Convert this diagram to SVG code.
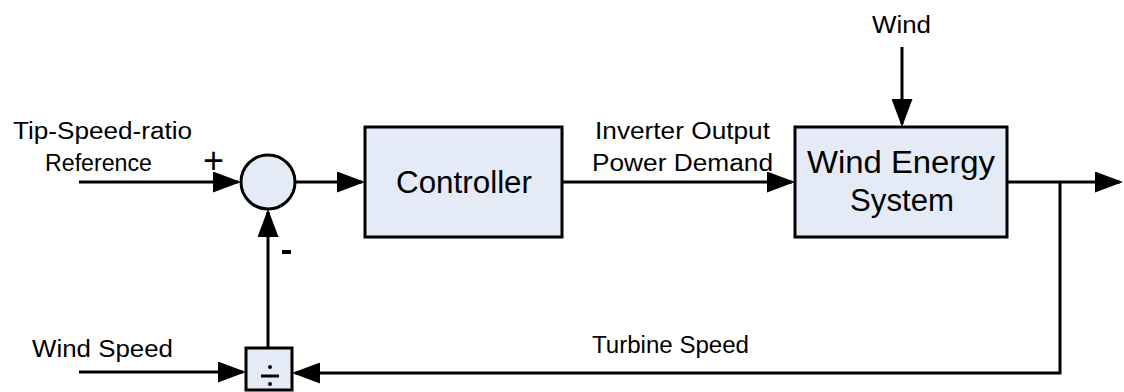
<svg xmlns="http://www.w3.org/2000/svg" width="1124" height="392" viewBox="0 0 1124 392">
<style>
.box{fill:#E4EBF6;stroke:#000;stroke-width:3}
.ln{fill:none;stroke:#000;stroke-width:3}
.t{font-family:"Liberation Sans",Arial,sans-serif;fill:#000}
.s{font-size:23px}
.b{font-size:31px}
</style>
<defs>
<marker id="ah" markerUnits="userSpaceOnUse" markerWidth="28" markerHeight="21" refX="25" refY="10.5" orient="auto" viewBox="0 0 28 21">
<path d="M0,0 L28,10.5 L0,21 z" fill="#000"/>
</marker>
</defs>
<rect width="1124" height="392" fill="#fff"/>
<g id="connectors">
<line class="ln" x1="79" y1="182" x2="238" y2="182" marker-end="url(#ah)"/>
<line class="ln" x1="295" y1="182" x2="362" y2="182" marker-end="url(#ah)"/>
<line class="ln" x1="562" y1="182" x2="792" y2="182" marker-end="url(#ah)"/>
<line class="ln" x1="902" y1="47" x2="902" y2="124" marker-end="url(#ah)"/>
<line class="ln" x1="1007" y1="182" x2="1120" y2="182" marker-end="url(#ah)"/>
<polyline class="ln" points="1060,182 1060,373 295,373" marker-end="url(#ah)"/>
<line class="ln" x1="79" y1="372" x2="243" y2="372" marker-end="url(#ah)"/>
<line class="ln" x1="268" y1="348" x2="268" y2="212" marker-end="url(#ah)"/>
</g>
<g id="sum">
<circle class="box" cx="268" cy="182" r="27"/>
<text class="t" x="213.5" y="172.5" text-anchor="middle" font-size="36" font-weight="300">+</text>
<rect x="282" y="250" width="9" height="4" fill="#000"/>
</g>
<g id="controller">
<rect class="box" x="365" y="127" width="197" height="110"/>
<text class="t b" x="396" y="193" textLength="136" lengthAdjust="spacingAndGlyphs">Controller</text>
</g>
<g id="wes">
<rect class="box" x="795" y="127" width="212" height="110"/>
<text class="t b" x="807" y="173" textLength="188" lengthAdjust="spacingAndGlyphs">Wind Energy</text>
<text class="t b" x="850" y="211" textLength="104" lengthAdjust="spacingAndGlyphs">System</text>
</g>
<g id="divide">
<rect class="box" x="246" y="348" width="46" height="42"/>
<circle cx="270" cy="367" r="2" fill="#000"/>
<rect x="261" y="374.5" width="18" height="3" fill="#000"/>
<circle cx="270" cy="384" r="2" fill="#000"/>
</g>
<g id="labels">
<text class="t s" x="13" y="139" textLength="179" lengthAdjust="spacingAndGlyphs">Tip-Speed-ratio</text>
<text class="t s" x="45" y="171" textLength="107" lengthAdjust="spacingAndGlyphs">Reference</text>
<text class="t s" x="595" y="139" textLength="175" lengthAdjust="spacingAndGlyphs">Inverter Output</text>
<text class="t s" x="592" y="171" textLength="181" lengthAdjust="spacingAndGlyphs">Power Demand</text>
<text class="t s" x="872" y="33" textLength="59" lengthAdjust="spacingAndGlyphs">Wind</text>
<text class="t s" x="32" y="357" textLength="141" lengthAdjust="spacingAndGlyphs">Wind Speed</text>
<text class="t s" x="592" y="353" textLength="157" lengthAdjust="spacingAndGlyphs">Turbine Speed</text>
</g>
</svg>
